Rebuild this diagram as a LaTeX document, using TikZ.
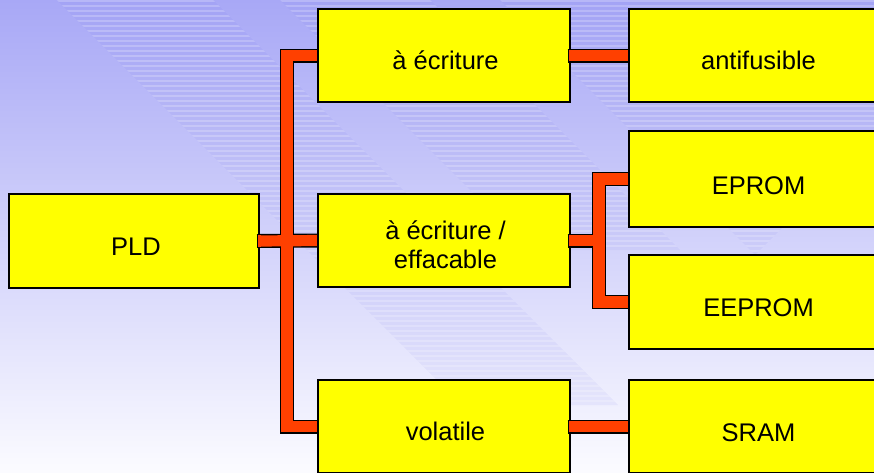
\documentclass[tikz,border=0pt]{standalone}
\usepackage{fontspec}
\setmainfont{Liberation Sans}
\definecolor{boxyellow}{RGB}{255,255,0}
\definecolor{wireorange}{RGB}{255,64,0}
\definecolor{bgtop}{RGB}{168,168,246}
\definecolor{bgmid}{RGB}{216,216,250}
\definecolor{bgbot}{RGB}{251,251,255}
\definecolor{bandtint}{RGB}{110,110,235}

\begin{document}
\begin{tikzpicture}[x=1pt,y=-1pt,
  box/.style={draw=black, line width=1.4pt, fill=boxyellow, minimum width=252pt,
    minimum height=93pt, inner sep=0pt, outer sep=0pt},
  lbl/.style={font=\fontsize{25.5}{28.3}\selectfont, inner sep=0pt, anchor=base, align=center},
  wireedge/.style={draw=black, line width=14pt, line join=miter, line cap=butt},
  wirecore/.style={draw=wireorange, line width=11.2pt, line join=miter, line cap=butt},
  bandfill/.style={fill=bandtint, opacity=0.08},
  stripe/.style={draw=white, opacity=0.22, line width=1.2pt}]

\useasboundingbox (0,0) rectangle (874,472);
\clip (0,0) rectangle (874,472);

% background gradient
\shade[top color=bgtop, middle color=bgmid, bottom color=bgbot] (0,0) rectangle (874,472);

% diagonal striped bands
\begin{scope}
  \clip (57,0) -- (213,0) -- (618,405) -- (462,405) -- cycle;
  \fill[bandfill] (0,0) rectangle (874,472);
  \foreach \y in {1,6,...,471} \draw[stripe] (0,\y) -- (874,\y);
\end{scope}
\begin{scope}
  \clip (280,0) -- (430,0) -- (680,250) -- (530,250) -- cycle;
  \fill[bandfill] (0,0) rectangle (874,472);
  \foreach \y in {1,6,...,471} \draw[stripe] (0,\y) -- (874,\y);
\end{scope}
\begin{scope}
  \clip (500,0) -- (874,0) -- (874,136) -- (755,255) -- cycle;
  \fill[bandfill] (0,0) rectangle (874,472);
  \foreach \y in {1,6,...,471} \draw[stripe] (0,\y) -- (874,\y);
\end{scope}

% boxes (shapes; also used for anchors)
\path (134,241)   node[box, minimum width=250pt, minimum height=94pt] (pld) {};
\path (444,55.5)  node[box] (ecr) {};
\path (444,240.5) node[box] (mid) {};
\path (444,426.5) node[box] (vol) {};
\path (756.5,55.5)  node[box, minimum width=255pt] (anti) {};
\path (756.5,179)   node[box, minimum width=255pt, minimum height=96pt] (eprom) {};
\path (756.5,302)   node[box, minimum width=255pt, minimum height=94pt] (eeprom) {};
\path (756.5,426.5) node[box, minimum width=255pt] (sram) {};

\coordinate (trunk) at (287,0);
\coordinate (fork) at (599,0);

% connectors: black edge pass, then orange core pass
\foreach \st in {wireedge,wirecore}{
  \path[\st] (pld.east) -- (mid.west);
  \path[\st] (ecr.west) -| (trunk |- vol.west) -- (vol.west);
  \path[\st] (ecr.east) -- (anti.west);
  \path[\st] (vol.east) -- (sram.west);
  \path[\st] (mid.east) -- (fork |- mid.east);
  \path[\st] (eprom.west) -| (fork |- eeprom.west) -- (eeprom.west);
}

% boxes redrawn over connector ends
\foreach \b in {pld,ecr,mid,vol,anti,eprom,eeprom,sram}{
  \draw[black, line width=1.4pt, fill=boxyellow] (\b.north west) rectangle (\b.south east);
}

% connector stubs lying over the right borders of the source boxes
\foreach \b in {pld,ecr,mid,vol}{
  \path[wireedge] ([xshift=-2.5pt]\b.east) -- ([xshift=1pt]\b.east);
  \path[wirecore] ([xshift=-1pt]\b.east) -- ([xshift=1.5pt]\b.east);
}

% labels
\node[lbl] (pldt)    at ([xshift=2pt,yshift=-14pt]pld.center) {PLD};
\node[lbl] (ecrt)    at ([xshift=1.5pt,yshift=-13.5pt]ecr.center) {à écriture};
\node[lbl] (midt)    at ([xshift=1.5pt,yshift=-27.5pt]mid.center) {à écriture /\\effacable};
\node[lbl] (volt)    at ([xshift=1.5pt,yshift=-14pt]vol.center) {volatile};
\node[lbl] (antit)   at ([xshift=2pt,yshift=-14pt]anti.center) {antifusible};
\node[lbl] (epromt)  at ([xshift=2pt,yshift=-15pt]eprom.center) {EPROM};
\node[lbl] (eepromt) at ([xshift=2pt,yshift=-14pt]eeprom.center) {EEPROM};
\node[lbl] (sramt)   at ([xshift=2pt,yshift=-14.5pt]sram.center) {SRAM};
\end{tikzpicture}
\end{document}
